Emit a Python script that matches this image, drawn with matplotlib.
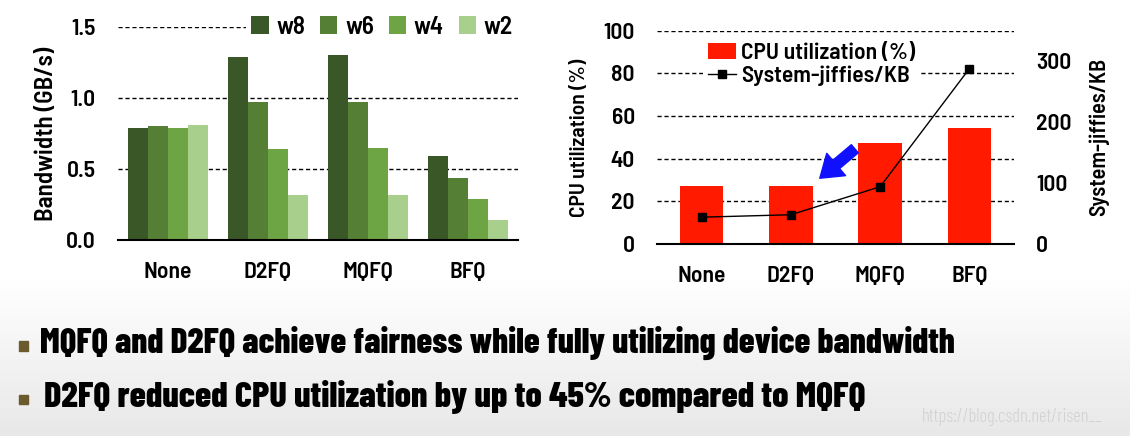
"""
D2FQ 对比图：带宽 + CPU 利用率
"""
import numpy as np
import matplotlib
matplotlib.use('Agg')
import matplotlib.pyplot as plt
from matplotlib.colors import LinearSegmentedColormap

plt.rcParams['font.family'] = ['Barlow Semi Condensed', 'DejaVu Sans']
plt.rcParams['font.weight'] = 600
plt.rcParams['axes.labelweight'] = 600

# 数据
schedulers = ['None', 'D2FQ', 'MQFQ', 'BFQ']
weights = ['w8', 'w6', 'w4', 'w2']
bandwidth = {
    'w8': [0.79, 1.29, 1.30, 0.59],
    'w6': [0.80, 0.97, 0.97, 0.44],
    'w4': [0.79, 0.64, 0.65, 0.29],
    'w2': [0.81, 0.32, 0.32, 0.14],
}
cpu_util = [27, 27.2, 47.3, 54.3]
jiffies_per_kb = [44, 48, 94, 288]

bw_yticks = [0.0, 0.5, 1.0, 1.5]
cpu_yticks = [0, 20, 40, 60, 80, 100]
jiffy_yticks = [0, 100, 200, 300]

green = ['#3a5728', '#557f35', '#6ea544', '#a8cf8c']
red = '#ff1a00'

fig = plt.figure(figsize=(11.3, 4.36), dpi=100)

# 底部渐变背景（上白下灰）
bg = fig.add_axes([0, 0, 1, 0.36], zorder=-10)
grad = np.linspace(0.0, 1.0, 100).reshape(-1, 1)
bg.imshow(grad, aspect='auto', cmap=LinearSegmentedColormap.from_list('g', ['#e8e8e8', '#ffffff']),
          extent=[0, 1, 0, 1], vmin=0, vmax=1, origin='lower')
bg.axis('off')


def style_axes(ax):
    for s in ['top', 'left', 'right']:
        ax.spines[s].set_visible(False)
    ax.spines['bottom'].set_linewidth(1.5)
    ax.tick_params(axis='both', length=0, labelsize=17)
    ax.tick_params(axis='y', pad=16)
    ax.tick_params(axis='x', pad=16)
    ax.yaxis.grid(True, linestyle=(0, (3, 2)), color='black', linewidth=1)
    ax.set_axisbelow(True)


# 左图：带宽
ax1 = fig.add_axes([0.1044, 0.4495, 0.354, 0.4885])
x = np.arange(len(schedulers))
bw = 0.2
for i, w in enumerate(weights):
    ax1.bar(x + (i - 1.5) * bw, bandwidth[w], width=bw, color=green[i], label=w)
ax1.set_xlim(-0.5, 3.5)
ax1.set_ylim(0, 1.5)
ax1.set_yticks(bw_yticks)
ax1.set_yticklabels([f'{v:.1f}' for v in bw_yticks])
ax1.set_xticks(x)
ax1.set_xticklabels(schedulers)
style_axes(ax1)
ax1.set_ylabel('Bandwidth (GB/s)', fontsize=18, labelpad=6)
leg1 = ax1.legend(loc='center right', bbox_to_anchor=(1.0, 1.0), ncol=4, fontsize=18,
                  frameon=True, handlelength=0.7, handleheight=0.7, handletextpad=0.3,
                  columnspacing=0.6, borderpad=0.2, borderaxespad=0)
leg1.get_frame().set_facecolor('white')
leg1.get_frame().set_edgecolor('none')
leg1.get_frame().set_alpha(1)

# 右图：CPU 利用率 + jiffies
ax2 = fig.add_axes([0.5814, 0.4404, 0.316, 0.489])
ax2.bar(x, cpu_util, width=0.49, color=red, label='CPU utilization (%)')
ax2.set_xlim(-0.5, 3.5)
ax2.set_ylim(0, 100)
ax2.set_yticks(cpu_yticks)
ax2.set_xticks(x)
ax2.set_xticklabels(schedulers)
style_axes(ax2)
ax2.set_ylabel('CPU utilization (%)', fontsize=15.5, labelpad=10)

ax3 = ax2.twinx()
line, = ax3.plot(x, jiffies_per_kb, color='black', linewidth=1, marker='s',
                 markersize=6, label='System-jiffies/KB')
ax3.set_ylim(0, 350)
ax3.set_yticks(jiffy_yticks)
for s in ['top', 'left', 'right', 'bottom']:
    ax3.spines[s].set_visible(False)
ax3.tick_params(axis='y', length=0, labelsize=17, pad=16)
ax3.set_ylabel('System-jiffies/KB', fontsize=16, labelpad=12)

handles = [ax2.patches[0], line]
leg2 = ax3.legend(handles, ['CPU utilization (%)', 'System-jiffies/KB'],
                  loc='upper left', bbox_to_anchor=(0.13, 0.965), fontsize=17,
                  frameon=True, handlelength=1.2, handletextpad=0.2,
                  labelspacing=0.1, borderpad=0.2, borderaxespad=0)
leg2.get_frame().set_facecolor('white')
leg2.get_frame().set_edgecolor('none')
leg2.get_frame().set_alpha(1)

# 蓝色箭头
ax2.annotate('', xy=(1.30, 30), xytext=(1.74, 45.5),
             arrowprops=dict(arrowstyle='simple,head_length=1.1,head_width=1.5,tail_width=0.55',
                             color='#1010ff', mutation_scale=14))

# 底部文字
bullet = '#6b5a2e'
fig.patches.append(plt.Rectangle((0.017, 0.196), 0.008, 0.022, transform=fig.transFigure,
                                 color=bullet, figure=fig))
fig.patches.append(plt.Rectangle((0.017, 0.073), 0.008, 0.022, transform=fig.transFigure,
                                 color=bullet, figure=fig))
big = ['Barlow Condensed', 'DejaVu Sans']
fig.text(0.035, 0.213, 'MQFQ and D2FQ achieve fairness while fully utilizing device bandwidth',
         fontsize=25.5, fontweight=800, va='center', ha='left', color='black', family=big)
fig.text(0.039, 0.090, 'D2FQ reduced CPU utilization by up to 45% compared to MQFQ',
         fontsize=26.2, fontweight=800, va='center', ha='left', color='black', family=big)
fig.text(0.816, 0.044, 'https://blog.csdn.net/risen__', fontsize=13.5, fontweight=300,
         color='#d2d2d2', family=['Barlow Condensed', 'DejaVu Sans'], va='center')

plt.savefig('out.png', dpi=100)
plt.close()
